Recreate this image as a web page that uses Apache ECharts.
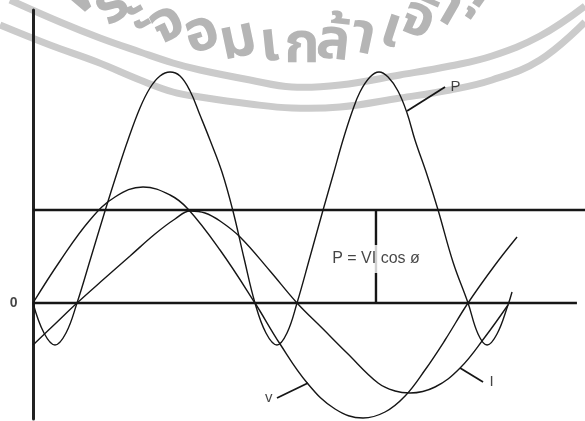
<!DOCTYPE html>
<html><head><meta charset="utf-8">
<script src="https://cdn.jsdelivr.net/npm/echarts@6/dist/echarts.min.js"></script>
<style>html,body{margin:0;padding:0;background:#fff}#c{width:585px;height:421px}</style>
</head><body><div id="c"></div>
<script>
// x: phase angle in degrees (wt), y: instantaneous value (arbitrary units)
const vAngle = [0,22.1,46.6,67.1,90,112.1,126.8,153,181.6,202.1,225,247.1,270,288,304.4,320.7,337.1,355.9,378,396];
const vValue = [0,0.42,0.83,1.06,1.16,1.08,0.94,0.53,0,-0.41,-0.81,-1.06,-1.15,-1.09,-0.93,-0.67,-0.37,0,0.38,0.66];

const iAngle = [0,18,36,58.9,79.4,99.8,116.2,128.5,140.7,153,169.4,193.9,216,236.5,256.9,282.3,296.2,308.5,328.9,349.4,369.8,388.6];
const iValue = [-0.42,-0.21,0,0.25,0.47,0.69,0.84,0.92,0.90,0.82,0.66,0.32,0,-0.25,-0.50,-0.80,-0.88,-0.90,-0.84,-0.65,-0.34,-0.02];

const pAngle = [0,9,18,27,36,47.5,58.9,69.5,77.7,87.5,95.7,103.9,112.1,120.3,128.5,136.6,144.8,154.6,163.6,172.6,181.6,190.6,199.6,207.8,216,226.6,237.3,245.5,253.6,261,267.5,275.7,283.1,290.5,298.6,306,312.5,322.4,331.4,343.6,355.9,364.1,371.5,379.6,388.6,391.9];
const pValue = [0,-0.30,-0.42,-0.30,0,0.46,0.92,1.33,1.63,1.95,2.15,2.27,2.31,2.27,2.12,1.88,1.63,1.31,0.92,0.45,0,-0.30,-0.42,-0.30,0,0.46,0.93,1.28,1.63,1.91,2.11,2.26,2.31,2.26,2.12,1.90,1.63,1.28,0.93,0.41,0,-0.31,-0.42,-0.31,-0.02,0.11];

const averagePower = 0.93;      // P = VI cos ø
const zeroLineEnd = 445;
const avgLineEnd = 451.6;
const markerAngle = 280.6;
const formulaText = 'P = VI cos ø';

const leaderP = [[306,1.92],[337.1,2.16]];
const leaderV = [[225,-0.80],[199.6,-0.95]];
const leaderI = [[349.4,-0.65],[368.2,-0.79]];

const zip = (a, b) => a.map((x, k) => [x, b[k]]);

const ink = '#161616';
const curve = (name, data) => ({
  name, type: 'line', data, smooth: 0.4, symbol: 'none', silent: true,
  lineStyle: { color: ink, width: 1.4 }, z: 3
});
const straight = (data, w) => ({
  type: 'line', data, symbol: 'none', silent: true,
  lineStyle: { color: ink, width: w }, z: 2
});

// watermark (seal of the institute), drawn as background decoration
const sealChars = [
  ['พ',88,-6,-40],['ร',114,9,-35],['ะ',140,19,-30],['จ',169,28,-25],['อ',203,38,-18],
  ['ม',239,45,-12],['เ',270,49,-6],['ก',302,50,0],['ล้',333,47,6],['า',362,41,12],
  ['เ',390,34,18],['จ้',416,24,24],['า',446,11,30],['คุ',474,-10,35]
];
const bandA = [[10,0],[60,22],[100,38],[140,52],[173,63],[200,70],[250,80],[292,87],[340,85],[400,75],[450,66],[492,56],[540,36],[585,6]];
const bandB = [[0,25],[50,45],[97,62],[140,80],[173,92],[200,97],[250,104],[292,108],[340,107],[400,98],[450,90],[492,80],[540,60],[585,22]];
const seal = [
  { type:'polyline', z:-10, silent:true, shape:{ points: bandA, smooth: 0.4 }, style:{ stroke:'#cbcbcb', lineWidth:7, fill:null } },
  { type:'polyline', z:-10, silent:true, shape:{ points: bandB, smooth: 0.4 }, style:{ stroke:'#cbcbcb', lineWidth:7, fill:null } }
].concat(sealChars.map(c => ({
  type:'text', z:-10, silent:true, x:c[1], y:c[2], rotation: -c[3]*Math.PI/180,
  style:{ text:c[0], fill:'#b5b5b5', font:'bold 57px "Noto Sans Thai","Noto Sans","DejaVu Sans",sans-serif', align:'center', verticalAlign:'middle' }
})));

const lblFont = { fontFamily:'"Liberation Sans", Arial, sans-serif', color: ink };
const labelPoint = (pt, text, position, distance, extra) => ({
  value: pt,
  label: Object.assign({ show:true, formatter:text, position, distance, fontSize:15 }, lblFont, extra || {})
});

const chart = echarts.init(document.getElementById('c'), null, { renderer:'canvas' });
chart.setOption({
  backgroundColor: '#fff',
  animation: false,
  graphic: seal,
  grid: { left: 33, right: 0, top: 10, bottom: 2, containLabel: false },
  xAxis: { type:'value', min:0, max:avgLineEnd, show:true,
    axisLine:{show:false}, axisTick:{show:false}, axisLabel:{show:false}, splitLine:{show:false} },
  yAxis: { type:'value', min:-1.16, max:2.93,
    axisLine:{ show:true, onZero:false, lineStyle:{ color:'#222', width:3 } },
    axisTick:{show:false}, axisLabel:{show:false}, splitLine:{show:false} },
  series: [
    straight([[0,0],[zeroLineEnd,0]], 2.4),
    straight([[0,averagePower],[avgLineEnd,averagePower]], 2.4),
    straight([[markerAngle,0],[markerAngle,averagePower]], 2.4),
    curve('p', zip(pAngle, pValue)),
    curve('v', zip(vAngle, vValue)),
    curve('i', zip(iAngle, iValue)),
    straight(leaderP, 1.8),
    straight(leaderV, 1.8),
    straight(leaderI, 1.8),
    {
      type:'scatter', silent:true, symbolSize:1, itemStyle:{ color:'rgba(0,0,0,0)' }, z:5,
      data: [
        labelPoint([0,0], '0', 'left', 15, { fontWeight:'bold', fontSize:14 }),
        labelPoint(leaderP[1], 'P', 'right', 5),
        labelPoint(leaderV[1], 'v', 'left', 4),
        labelPoint(leaderI[1], 'I', 'right', 6),
        labelPoint([markerAngle, averagePower/2 - 0.025], formulaText, 'inside', 0,
          { fontSize:16, backgroundColor:'#fff', padding:[6,1] })
      ]
    }
  ]
});
</script></body></html>
